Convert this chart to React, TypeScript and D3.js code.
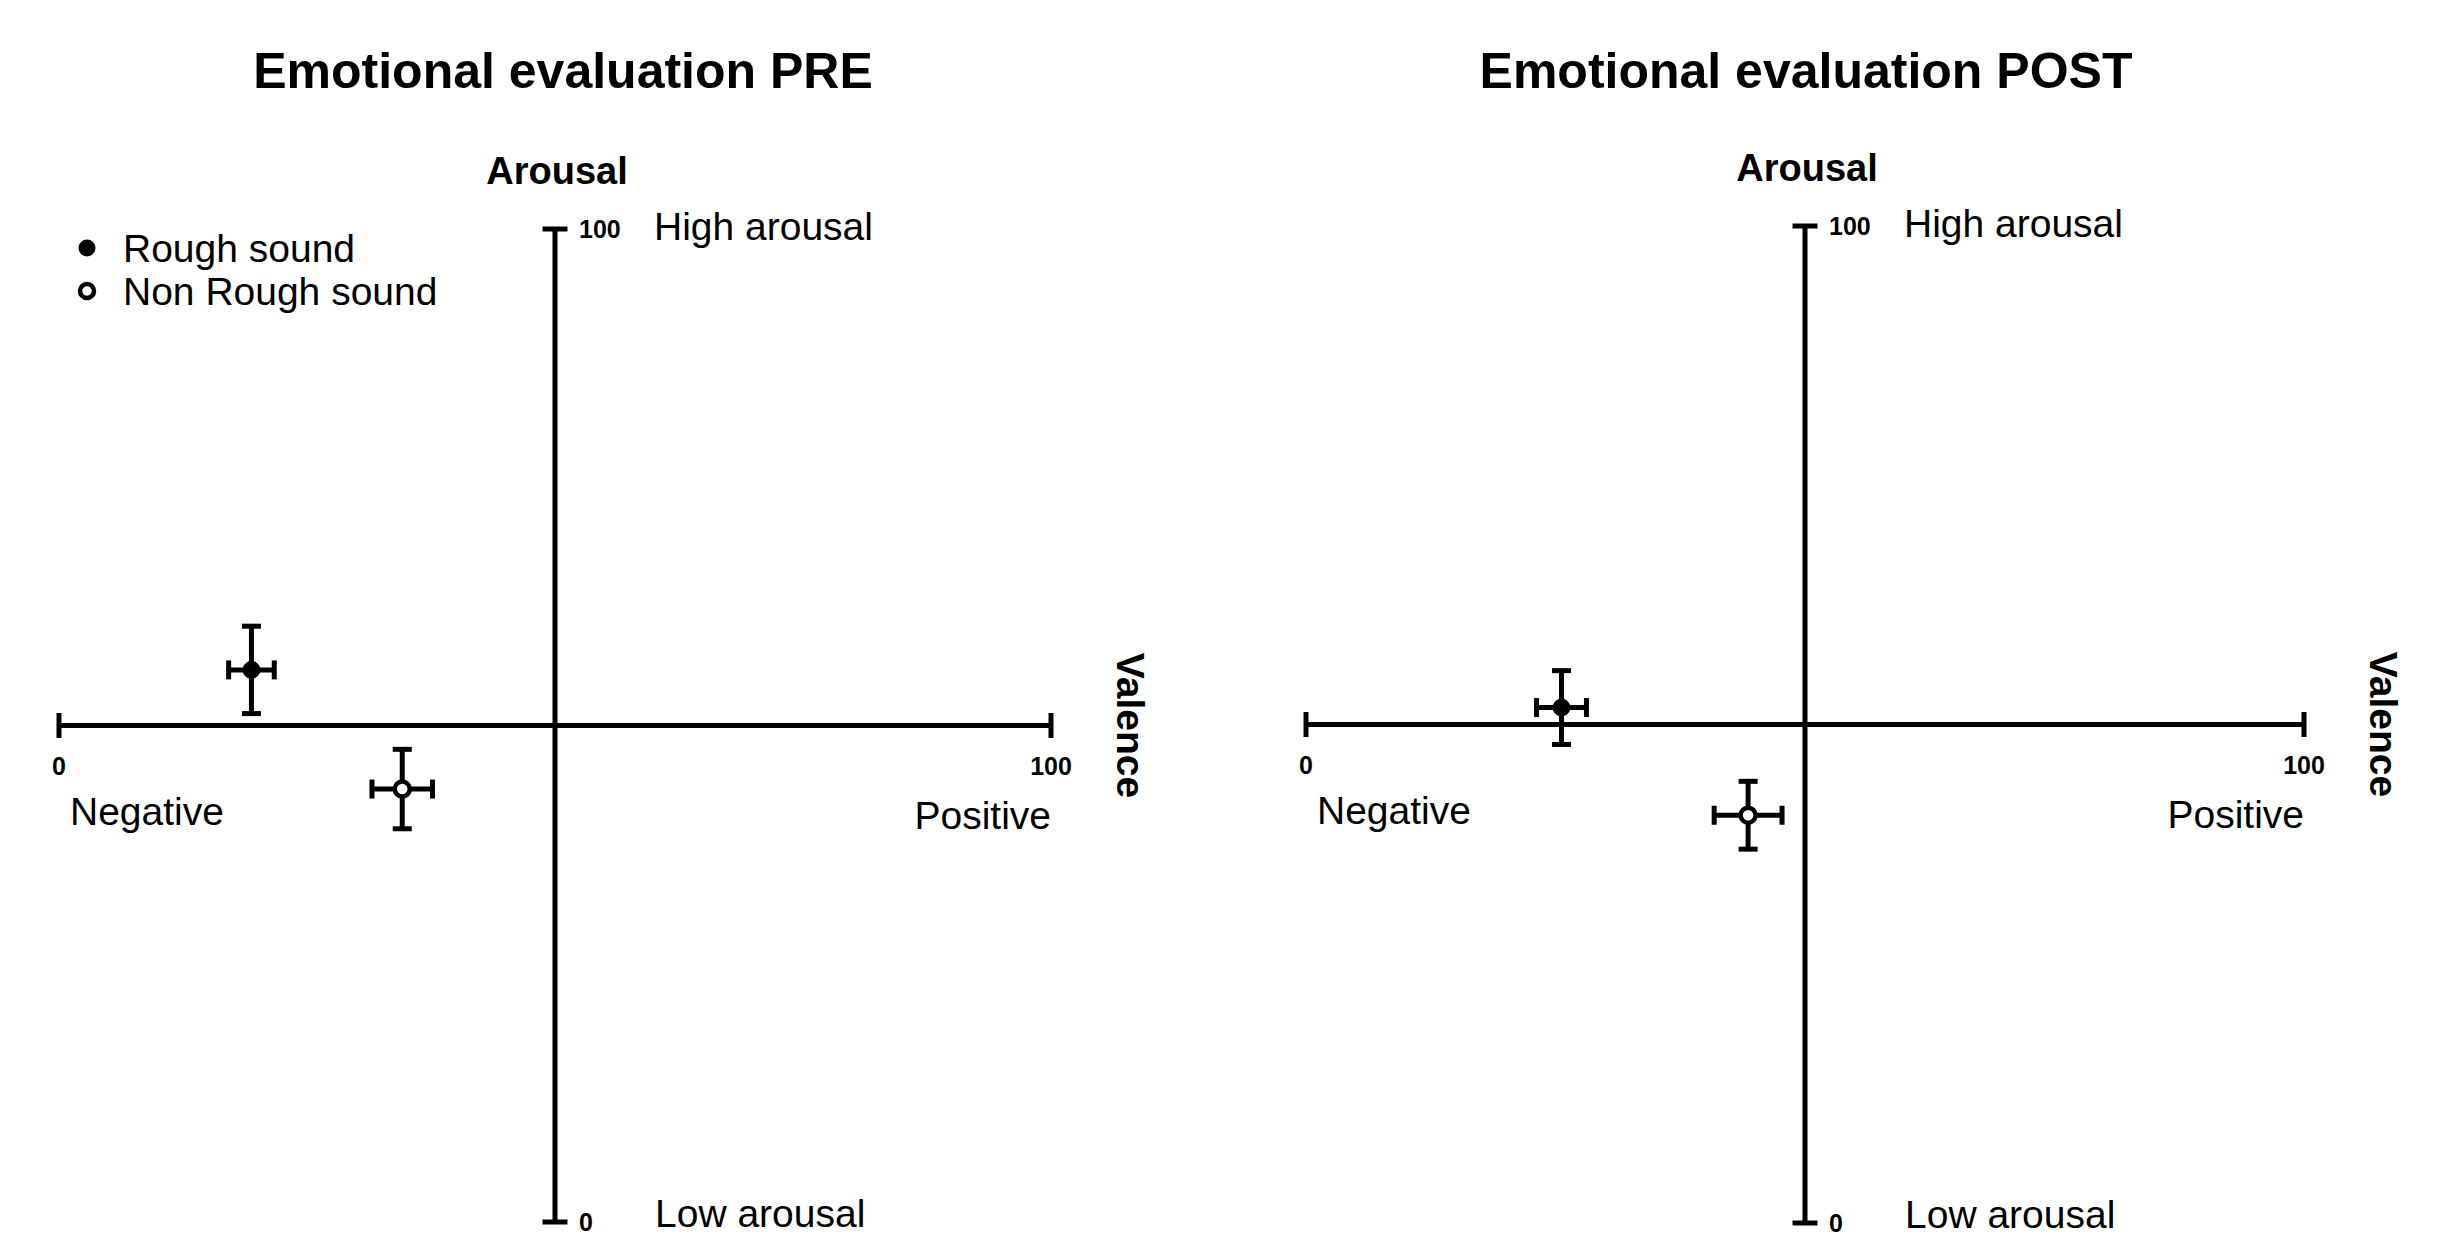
import React from 'react';
import * as d3 from 'd3';

// Panels and values (valence = x, arousal = y, 0..100)
const panelTitles = ['Emotional evaluation PRE', 'Emotional evaluation POST'];
const seriesNames = ['Rough sound', 'Non Rough sound'];
const roughValence = [19.4, 25.6];
const roughArousal = [55.6, 51.7];
const roughValenceErr = [2.3, 2.5];
const roughArousalErr = [4.4, 3.7];
const nonRoughValence = [34.6, 44.3];
const nonRoughArousal = [43.6, 40.9];
const nonRoughValenceErr = [3.05, 3.4];
const nonRoughArousalErr = [4.0, 3.4];
const axisTicks = [0, 100];

const W = 2442;
const H = 1236;
const FONT = '"Liberation Sans", Arial, Helvetica, sans-serif';

// pixel frame for each panel
const frames = [
  { x0: 59, x1: 1051, y0: 1222, y1: 229, titleDx: 8 },
  { x0: 1306, x1: 2304, y0: 1223, y1: 226, titleDx: 1 },
];

const Cross: React.FC<{
  cx: number; cy: number; ex: number; ey: number; filled: boolean;
}> = ({ cx, cy, ex, ey, filled }) => {
  const cap = 9.5;
  return (
    <g stroke="#000" strokeWidth={5} fill="none">
      <line x1={cx} y1={cy - ey} x2={cx} y2={cy + ey} />
      <line x1={cx - cap} y1={cy - ey} x2={cx + cap} y2={cy - ey} />
      <line x1={cx - cap} y1={cy + ey} x2={cx + cap} y2={cy + ey} />
      <line x1={cx - ex} y1={cy} x2={cx + ex} y2={cy} />
      <line x1={cx - ex} y1={cy - cap} x2={cx - ex} y2={cy + cap} />
      <line x1={cx + ex} y1={cy - cap} x2={cx + ex} y2={cy + cap} />
      <circle cx={cx} cy={cy} r={filled ? 8.5 : 7.5} fill={filled ? '#000' : '#fff'} strokeWidth={filled ? 1 : 4.5} />
    </g>
  );
};

const Panel: React.FC<{ i: number }> = ({ i }) => {
  const f = frames[i];
  const x = d3.scaleLinear().domain([0, 100]).range([f.x0, f.x1]);
  const y = d3.scaleLinear().domain([0, 100]).range([f.y0, f.y1]);
  const cx = x(50);
  const cy = y(50);
  const tick = 12.5;
  const [t0, t1] = axisTicks;
  return (
    <g fontFamily={FONT}>
      <text x={cx + f.titleDx} y={88} textAnchor="middle" fontSize={50} fontWeight="bold">{panelTitles[i]}</text>
      <text x={cx + 2} y={y(100) - 45} textAnchor="middle" fontSize={38} fontWeight="bold">Arousal</text>
      {/* axes */}
      <g stroke="#000" strokeWidth={5}>
        <line x1={x(t0)} y1={cy} x2={x(t1)} y2={cy} />
        <line x1={x(t0)} y1={cy - tick} x2={x(t0)} y2={cy + tick} />
        <line x1={x(t1)} y1={cy - tick} x2={x(t1)} y2={cy + tick} />
        <line x1={cx} y1={y(t0)} x2={cx} y2={y(t1)} />
        <line x1={cx - tick} y1={y(t0)} x2={cx + tick} y2={y(t0)} />
        <line x1={cx - tick} y1={y(t1)} x2={cx + tick} y2={y(t1)} />
      </g>
      {/* tick labels */}
      <g fontSize={25} fontWeight="bold">
        <text x={x(t0)} y={cy + 49} textAnchor="middle">{t0}</text>
        <text x={x(t1)} y={cy + 49} textAnchor="middle">{t1}</text>
        <text x={cx + 24} y={y(t1) + 9}>{t1}</text>
        <text x={cx + 24} y={y(t0) + 9}>{t0}</text>
      </g>
      {/* quadrant labels */}
      <g fontSize={39}>
        <text x={cx + 99} y={y(100) + 11}>High arousal</text>
        <text x={cx + 100} y={y(0) + 5}>Low arousal</text>
        <text x={x(0) + 11} y={cy + 99}>Negative</text>
        <text x={x(100)} y={cy + 103} textAnchor="end">Positive</text>
      </g>
      <text
        transform={`translate(${x(100) + 80},${cy}) rotate(90)`}
        textAnchor="middle"
        fontSize={39}
        fontWeight="bold"
        dy={14}
      >Valence</text>
      <Cross cx={x(roughValence[i])} cy={y(roughArousal[i])}
        ex={x(roughValenceErr[i]) - x(0)} ey={y(0) - y(roughArousalErr[i])} filled />
      <Cross cx={x(nonRoughValence[i])} cy={y(nonRoughArousal[i])}
        ex={x(nonRoughValenceErr[i]) - x(0)} ey={y(0) - y(nonRoughArousalErr[i])} filled={false} />
    </g>
  );
};

const App: React.FC = () => (
  <svg width={W} height={H} style={{ position: 'absolute', left: 0, top: 0, background: '#fff' }}>
    <rect width={W} height={H} fill="#fff" />
    <Panel i={0} />
    <Panel i={1} />
    {/* legend */}
    <g fontFamily={FONT} fontSize={39}>
      <circle cx={87} cy={248} r={8.5} fill="#000" />
      <circle cx={87} cy={291} r={7} fill="#fff" stroke="#000" strokeWidth={4.5} />
      <text x={123} y={262}>{seriesNames[0]}</text>
      <text x={123} y={305}>{seriesNames[1]}</text>
    </g>
  </svg>
);

export default App;
